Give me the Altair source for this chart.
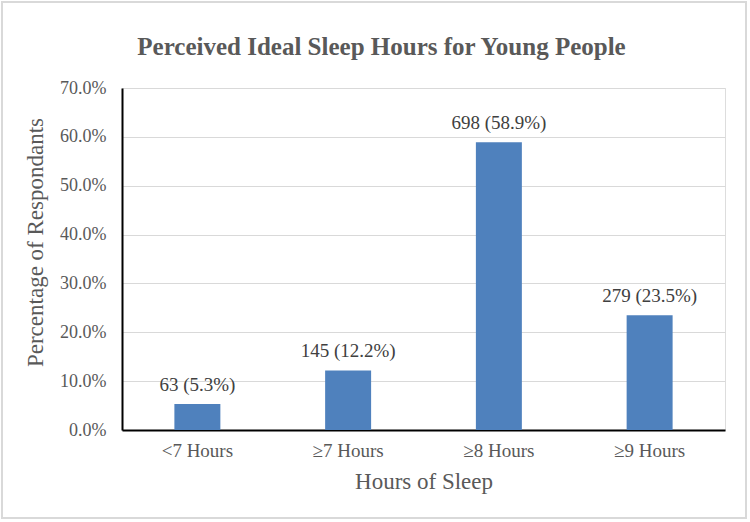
import altair as alt
import pandas as pd

categories = ["<7 Hours", "≥7 Hours", "≥8 Hours", "≥9 Hours"]
counts = [63, 145, 698, 279]
percents = [5.3, 12.2, 58.9, 23.5]

df = pd.DataFrame({
    "cat": categories,
    "count": counts,
    "pct": [p / 100 for p in percents],
    "label": [f"{c} ({p:.1f}%)" for c, p in zip(counts, percents)],
})

FONT = "Liberation Serif"
GRAY = "#595959"

x = alt.X("cat:N", sort=categories, title="Hours of Sleep",
          scale=alt.Scale(paddingInner=0.695, paddingOuter=0.3475),
          axis=alt.Axis(labelAngle=0, labelFontSize=19, labelColor=GRAY, labelFont=FONT,
                        labelPadding=11, ticks=False, domainColor="black", domainWidth=2,
                        titleFontSize=23, titleColor=GRAY, titleFont=FONT, titleFontWeight="normal",
                        titlePadding=10))
y = alt.Y("pct:Q", title="Percentage of Respondants",
          scale=alt.Scale(domain=[0, 0.7], nice=False),
          axis=alt.Axis(format=".1%", values=[0, 0.1, 0.2, 0.3, 0.4, 0.5, 0.6, 0.7],
                        labelFontSize=18, labelColor=GRAY, labelFont=FONT, labelPadding=16,
                        ticks=False, domainColor="black", domainWidth=2,
                        gridColor="#d9d9d9", gridWidth=1,
                        titleFontSize=23, titleColor=GRAY, titleFont=FONT, titleFontWeight="normal",
                        titleX=-87, titleY=154, titleAngle=-90, titleAlign="center", titleBaseline="middle"))

bars = alt.Chart(df).mark_bar(color="#4f81bd").encode(x=x, y=y)
labels = alt.Chart(df).mark_text(dy=-9, fontSize=19, font=FONT, color="#404040", baseline="bottom").encode(
    x=alt.X("cat:N", sort=categories), y="pct:Q", text="label:N")

border = alt.Chart(df).mark_rect(fill=None, stroke="#d9d9d9", strokeWidth=1.5, clip=False).encode(
    x=alt.value(-120), x2=alt.value(624), y=alt.value(-86), y2=alt.value(430))

chart = alt.layer(bars, labels, border).properties(
    width=603, height=342,
    padding={"left": 122, "top": 88, "right": 25, "bottom": 92},
    autosize=alt.AutoSizeParams(type="none"),
    title=alt.TitleParams("Perceived Ideal Sleep Hours for Young People", fontSize=25, font=FONT,
                          fontWeight="bold", color=GRAY, anchor="middle", frame="group",
                          dx=-42, offset=-84, baseline="bottom"),
).configure_view(stroke=None).configure(background="white")

chart.save("out.html", embed_options={"renderer": "svg", "actions": False})
